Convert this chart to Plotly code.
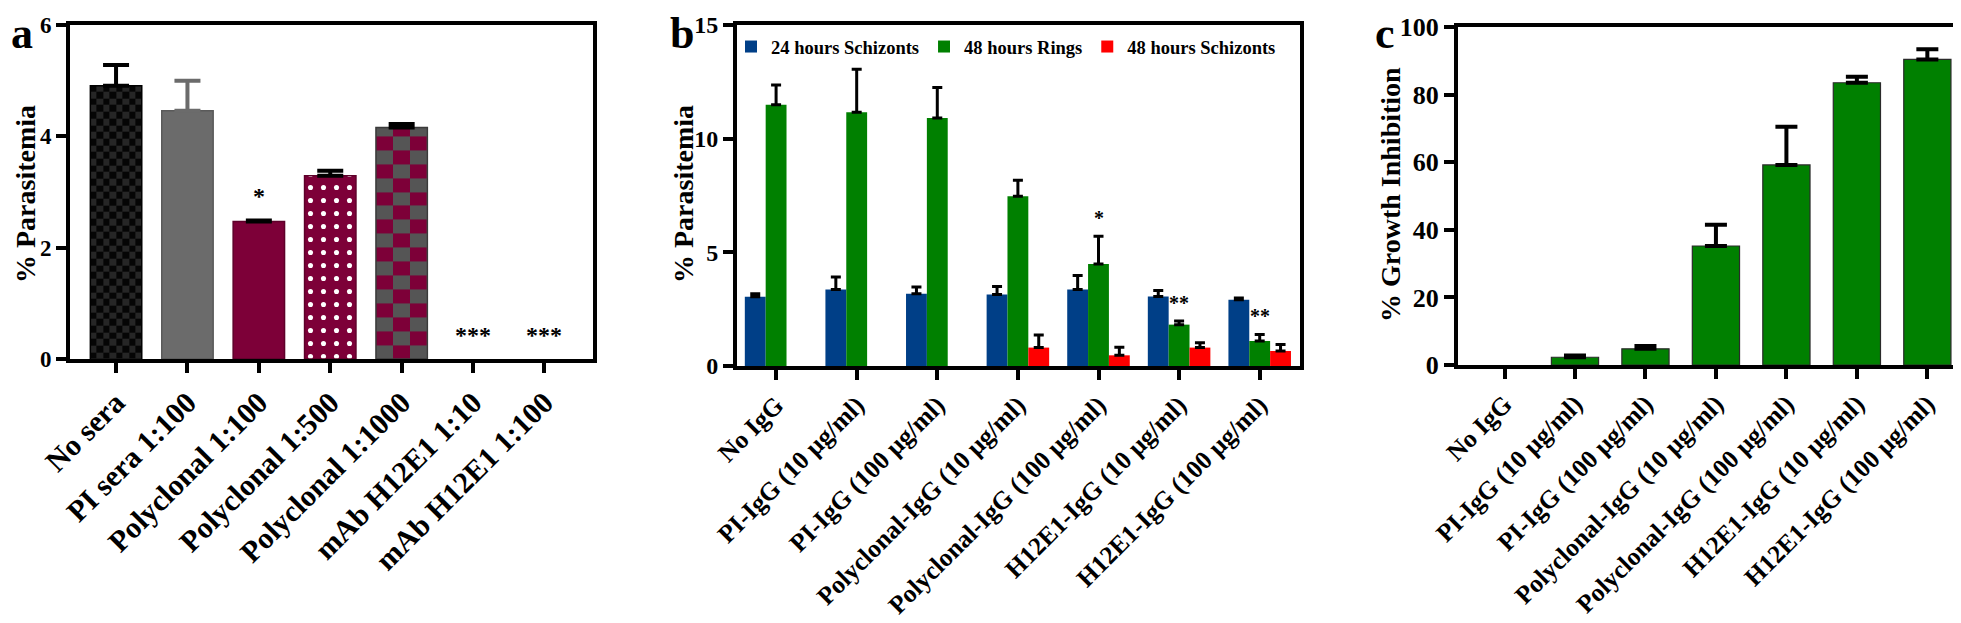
import numpy as np
import plotly.graph_objects as go

# ---------------- data ----------------
cats_a = ["No sera", "PI sera 1:100", "Polyclonal 1:100", "Polyclonal 1:500",
          "Polyclonal 1:1000", "mAb H12E1 1:10", "mAb H12E1 1:100"]
vals_a = [4.91, 4.46, 2.47, 3.29, 4.16, 0, 0]
err_a = [0.37, 0.54, 0.02, 0.09, 0.06, 0, 0]
stars_a = ["", "", "*", "", "", "***", "***"]

groups_b = ["No IgG", "PI-IgG (10 µg/ml)", "PI-IgG (100 µg/ml)",
            "Polyclonal-IgG (10 µg/ml)", "Polyclonal-IgG (100 µg/ml)",
            "H12E1-IgG (10 µg/ml)", "H12E1-IgG (100 µg/ml)"]
series_b = ["24 hours Schizonts", "48 hours Rings", "48 hours Schizonts"]
schz24 = [3.05, 3.37, 3.18, 3.15, 3.37, 3.06, 2.91]
schz24_err = [0.13, 0.54, 0.29, 0.35, 0.61, 0.26, 0.08]
rings48 = [11.49, 11.16, 10.91, 7.47, 4.49, 1.82, 1.10]
rings48_err = [0.87, 1.89, 1.34, 0.70, 1.22, 0.16, 0.29]
schz48 = [None, None, None, 0.81, 0.47, 0.81, 0.66]
schz48_err = [None, None, None, 0.55, 0.36, 0.21, 0.29]
stars_b = ["", "", "", "", "*", "**", "**"]  # over 48 hours Rings

groups_c = groups_b
growth = [0, 2.3, 4.8, 35.2, 59.2, 83.5, 90.4]
growth_err = [0, 0.5, 0.8, 6.3, 11.3, 1.8, 3.0]

# ---------------- style ----------------
FONT = "Liberation Serif, Times New Roman, serif"
W, H = 1961, 623
MAROON = "#7d0038"
BLUE = "#003f87"
GREEN = "#008000"
RED = "#ff0000"


def px_x(p):
    return p / W


def px_y(p):
    return 1 - p / H


fig = go.Figure()

# ---------------- panel a ----------------
bw_a = 0.72
styles_a = [
    dict(fill="rgba(0,0,0,0)", checker=("#050505", "#262626", 8, 0.12), line="#000000", err="#000000"),
    dict(fill="#6b6b6b", line="#5a5a5a", err="#6b6b6b"),
    dict(fill=MAROON, line="#5e002a", err="#000000"),
    dict(fill=MAROON, dots=True, line="#5e002a", err="#000000"),
    dict(fill="rgba(0,0,0,0)", checker=("#555555", MAROON, 3, 0.25), line="#3a3a3a", err="#000000"),
    dict(fill=MAROON, line=MAROON, err="#000000"),
    dict(fill=MAROON, line=MAROON, err="#000000"),
]

for i, (v, e, st) in enumerate(zip(vals_a, err_a, styles_a)):
    if "checker" in st and v > 0:
        c0, c1, ncols, ch = st["checker"]
        xs = (i - bw_a / 2) + bw_a * np.arange(ncols + 1) / ncols
        ys = list(np.arange(0, v, ch)) + [v]
        z = [[(r + c) % 2 for c in range(ncols)] for r in range(len(ys) - 1)]
        fig.add_trace(go.Heatmap(x=xs, y=ys, z=z, zmin=0, zmax=1,
                                 colorscale=[[0, c0], [1, c1]], showscale=False,
                                 hoverinfo="skip", xaxis="x", yaxis="y"))
    pattern = dict(shape=".", fgcolor="white", bgcolor=MAROON, size=13,
                   solidity=0.12, fillmode="replace") if st.get("dots") else None
    marker = dict(color=st["fill"], line=dict(color=st["line"], width=1.5 if v > 0 else 0))
    if pattern:
        marker["pattern"] = pattern
    fig.add_trace(go.Bar(
        x=[i], y=[v], width=bw_a, offset=-bw_a / 2, marker=marker,
        error_y=dict(type="data", array=[e], arrayminus=[0], symmetric=False,
                     visible=e > 0, color=st["err"], thickness=4, width=13),
        showlegend=False, xaxis="x", yaxis="y"))

for i, (s, v, e) in enumerate(zip(stars_a, vals_a, err_a)):
    if s:
        fig.add_annotation(x=i, y=v + e, xref="x", yref="y", text=s, showarrow=False,
                           yanchor="middle", yshift=24,
                           font=dict(family=FONT, size=24, color="black", weight="bold"))

# ---------------- panel b ----------------
for name, vals, errs, col in zip(series_b, [schz24, rings48, schz48],
                                 [schz24_err, rings48_err, schz48_err],
                                 [BLUE, GREEN, RED]):
    fig.add_trace(go.Bar(
        x=list(range(len(groups_b))), y=vals, name=name,
        marker=dict(color=col, line=dict(width=0)),
        error_y=dict(type="data", array=errs, arrayminus=[0] * len(errs),
                     symmetric=False, color="black", thickness=3, width=5),
        xaxis="x2", yaxis="y2"))

for i, (s, v, e) in enumerate(zip(stars_b, rings48, rings48_err)):
    if s:
        fig.add_annotation(x=i, y=v + e, xref="x2", yref="y2", text=s, showarrow=False,
                           yanchor="middle", yshift=18,
                           font=dict(family=FONT, size=20, color="black", weight="bold"))

# ---------------- panel c ----------------
bw_c = 0.67
for has_err in (False, True):
    idx = [i for i, e in enumerate(growth_err) if (e > 0) == has_err]
    if not idx:
        continue
    fig.add_trace(go.Bar(
        x=idx, y=[growth[i] for i in idx], width=bw_c, offset=-bw_c / 2,
        marker=dict(color=GREEN,
                    line=dict(color="#2a2a2a", width=[1.2 if growth[i] > 0 else 0 for i in idx])),
        error_y=dict(type="data", array=[growth_err[i] for i in idx],
                     arrayminus=[0] * len(idx), symmetric=False, visible=has_err,
                     color="black", thickness=4, width=11),
        showlegend=False, xaxis="x3", yaxis="y3"))

# ---------------- axes ----------------
common_y = dict(showgrid=False, zeroline=False, showline=True, linewidth=4,
                linecolor="black", mirror=True, ticks="outside", ticklen=10,
                tickwidth=4, tickcolor="black", automargin=False)
common_x = dict(showgrid=False, zeroline=False, showline=True, linewidth=4,
                linecolor="black", mirror=True, ticks="outside", ticklen=10,
                tickwidth=4, tickcolor="black", tickangle=-45,
                tickvals=list(range(7)), automargin=False)

fig.update_layout(
    template="none",
    width=W, height=H,
    margin=dict(l=0, r=0, t=0, b=0, autoexpand=False),
    paper_bgcolor="white", plot_bgcolor="white",
    barmode="group", bargap=0.224, bargroupgap=0,
    font=dict(family=FONT, color="black"),
    xaxis=dict(common_x, domain=[px_x(62), px_x(585)], range=[-0.645, 6.68],
               ticktext=cats_a, anchor="y",
               tickfont=dict(family=FONT, size=30, weight="bold")),
    yaxis=dict(common_y, domain=[px_y(351), px_y(17)], range=[0, 6], dtick=2,
               anchor="x", tickfont=dict(family=FONT, size=23, weight="bold")),
    xaxis2=dict(common_x, domain=[px_x(729), px_x(1292)], range=[-0.485, 6.5],
                ticktext=groups_b, anchor="y2",
                tickfont=dict(family=FONT, size=25.5, weight="bold")),
    yaxis2=dict(common_y, domain=[px_y(358), px_y(17)], range=[0, 15], dtick=5,
                anchor="x2", tickfont=dict(family=FONT, size=24, weight="bold")),
    xaxis3=dict(common_x, domain=[px_x(1450), px_x(1956)], range=[-0.66, 6.52],
                ticktext=groups_c, anchor="y3",
                tickfont=dict(family=FONT, size=25.5, weight="bold")),
    yaxis3=dict(common_y, domain=[px_y(357), px_y(19)], range=[0, 100], dtick=20,
                anchor="x3", tickfont=dict(family=FONT, size=26, weight="bold")),
    legend=dict(orientation="h", x=px_x(723), y=px_y(39), xanchor="left",
                yanchor="middle", bgcolor="rgba(0,0,0,0)",
                font=dict(family=FONT, size=18.5, weight="bold"),
                traceorder="normal"),
)

# axis titles and panel letters
for txt, xc, yc in [("% Parasitemia", 17, 186), ("% Parasitemia", 675, 186),
                    ("% Growth Inhibition", 1382, 187)]:
    fig.add_annotation(x=px_x(xc), y=px_y(yc), xref="paper", yref="paper", text=txt,
                       showarrow=False, textangle=-90, xanchor="center", yanchor="middle",
                       font=dict(family=FONT, size=28, color="black", weight="bold"))

for txt, xl in [("a", 2), ("b", 661), ("c", 1366)]:
    fig.add_annotation(x=px_x(xl), y=1, xref="paper", yref="paper", text=txt,
                       showarrow=False, xanchor="left", yanchor="top", borderpad=0,
                       font=dict(family=FONT, size=44, color="black", weight="bold"))

fig.write_html("out.html")
